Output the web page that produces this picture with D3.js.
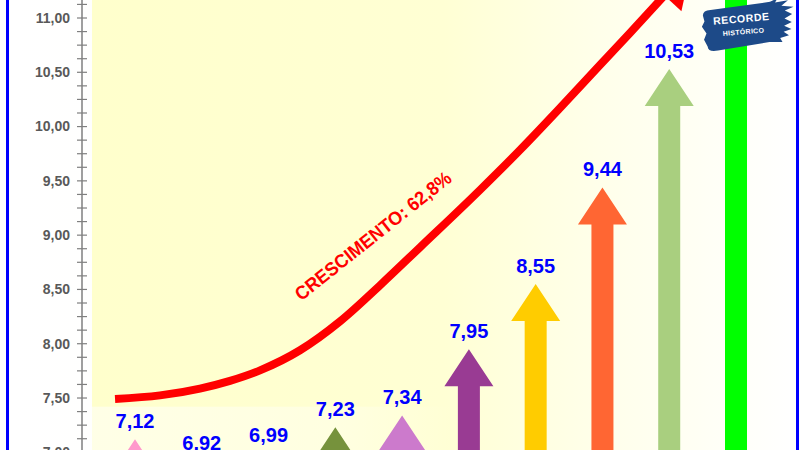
<!DOCTYPE html>
<html><head><meta charset="utf-8">
<script src="https://cdn.jsdelivr.net/npm/d3@7"></script>
<style>html,body{margin:0;padding:0;background:#fff;overflow:hidden}</style>
</head><body>
<svg id="c" width="800" height="450"></svg>
<script>
// ---- data ----
const categories = ["2013","2014","2015","2016","2017","2018","2019","2020","2021","2022"];
const values = [7.12, 6.92, 6.99, 7.23, 7.34, 7.95, 8.55, 9.44, 10.53, 11.59];
const arrowColors = ["#FF99CC","#4F81BD","#F79646","#76923C","#CC7ACC","#993B93","#FFCC00","#FF6633","#A9CF7F","#00FF00"];
const yTickValues = [7.0, 7.5, 8.0, 8.5, 9.0, 9.5, 10.0, 10.5, 11.0];
const yTickLabels = ["7,00","7,50","8,00","8,50","9,00","9,50","10,00","10,50","11,00"];
// growth trend curve (category index, value)
const trendIdx = [-0.299, 0.374, 0.973, 1.422, 1.872, 2.471, 3.070, 3.669, 4.268, 5.166, 5.765, 6.364, 6.963, 7.412, 7.921];
const trendVal = [7.491, 7.524, 7.587, 7.658, 7.755, 7.940, 8.206, 8.538, 8.888, 9.416, 9.784, 10.171, 10.567, 10.862, 11.203];
const growthLabel = "CRESCIMENTO: 62,8%";
const badgeLines = ["RECORDE", "HISTÓRICO"];

// ---- scales ----
const svg = d3.select("#c");
const x = d3.scalePoint().domain(categories).range([135, 736]);
const xi = d3.scaleLinear().domain([0, categories.length - 1]).range([135, 736]);
const y = d3.scaleLinear().domain([7, 11]).range([452.3, 18]);

// ---- backgrounds ----
const defs = svg.append("defs");
const g1 = defs.append("linearGradient").attr("id","bg").attr("x1","0").attr("x2","1").attr("y1","0").attr("y2","0");
[["0%","#FFFFCC"],["50%","#FFFFD4"],["72%","#FFFFEA"],["100%","#FFFFFF"]].forEach(s=>g1.append("stop").attr("offset",s[0]).attr("stop-color",s[1]));
const g2 = defs.append("linearGradient").attr("id","bgl").attr("x1","0").attr("x2","1");
[["0%","#FFFFFF"],["100%","#FFFFF6"]].forEach(s=>g2.append("stop").attr("offset",s[0]).attr("stop-color",s[1]));
const g3 = defs.append("linearGradient").attr("id","band").attr("x1","0").attr("x2","1");
[["0%","#FFFFF2",0.7],["70%","#FFFFF2",0.45],["100%","#FFFFF2",0]].forEach(s=>g3.append("stop").attr("offset",s[0]).attr("stop-color",s[1]).attr("stop-opacity",s[2]));

svg.append("rect").attr("x",8).attr("y",0).attr("width",790).attr("height",450).attr("fill","url(#bgl)");
svg.append("rect").attr("x",92).attr("y",0).attr("width",704).attr("height",450).attr("fill","url(#bg)");
svg.append("rect").attr("x",92).attr("y",y(7.42)).attr("width",360).attr("height",60).attr("fill","url(#band)");

// outer border
svg.append("line").attr("x1",7.5).attr("x2",7.5).attr("y1",0).attr("y2",450).attr("stroke","#0000FF").attr("stroke-width",3);
svg.append("line").attr("x1",797.5).attr("x2",797.5).attr("y1",0).attr("y2",450).attr("stroke","#0000FF").attr("stroke-width",3);

// ---- y axis ----
const minor = d3.range(6.5, 11.6, 0.125);
const ax = svg.append("g");
ax.append("line").attr("x1",82).attr("x2",82).attr("y1",0).attr("y2",450).attr("stroke","#7F7F7F").attr("stroke-width",1.5);
ax.selectAll("line.t").data(minor).join("line").attr("class","t")
  .attr("x1",77).attr("x2",87).attr("y1",d=>y(d)).attr("y2",d=>y(d))
  .attr("stroke","#7F7F7F").attr("stroke-width",1.2);
ax.selectAll("text").data(yTickValues).join("text")
  .attr("x",70).attr("y",d=>y(d)).attr("dy","0.35em").attr("text-anchor","end")
  .attr("font-family","'Liberation Sans',Arial,sans-serif").attr("font-weight","bold")
  .attr("font-size",14).attr("fill","#595959")
  .text((d,i)=>yTickLabels[i]);

// ---- arrows ----
const headH = 37, headW = 24.5, shaftW = 11;
const arrows = svg.append("g");
arrows.selectAll("path").data(values).join("path")
  .attr("fill",(d,i)=>arrowColors[i])
  .attr("d",(d,i)=>{
    const cx = x(categories[i]), t = y(d), b = y(0);
    return `M${cx},${t}L${cx+headW},${t+headH}L${cx+shaftW},${t+headH}L${cx+shaftW},${b}L${cx-shaftW},${b}L${cx-shaftW},${t+headH}L${cx-headW},${t+headH}Z`;
  });

// value labels
svg.append("g").selectAll("text").data(values).join("text")
  .attr("x",(d,i)=>x(categories[i])).attr("y",d=>y(d)-11)
  .attr("text-anchor","middle")
  .attr("font-family","'Liberation Sans',Arial,sans-serif").attr("font-weight","bold")
  .attr("font-size",20).attr("fill","#0000FF")
  .text(d=>d3.format(".2f")(d).replace(".",","));

// ---- growth curve ----
const pts = trendIdx.map((v,i)=>[xi(v), y(trendVal[i])]);
const line = d3.line().curve(d3.curveMonotoneX);
svg.append("path").attr("d",line(pts)).attr("fill","none").attr("stroke","#FF0000").attr("stroke-width",8);
// arrowhead at the end, oriented along the final segment
const pA = pts[pts.length-2], pB = pts[pts.length-1];
const ang = Math.atan2(pB[1]-pA[1], pB[0]-pA[0]) * 180/Math.PI;
svg.append("path").attr("d","M0,-21L36,0L0,21Z").attr("fill","#FF0000")
  .attr("transform",`translate(${pB[0]+2},${pB[1]+1}) rotate(${ang})`);

// growth label
svg.append("text")
  .attr("transform",`translate(${xi(2.49)},${y(8.39)}) rotate(-38.5)`)
  .attr("font-family","'Liberation Sans',Arial,sans-serif").attr("font-weight","bold")
  .attr("font-size",19).attr("fill","#FF0000")
  .attr("textLength",194).attr("lengthAdjust","spacingAndGlyphs")
  .text(growthLabel);

// ---- badge ----
const bg = svg.append("g").attr("transform",`translate(${x(categories[9])+10},26) rotate(-5)`);
bg.append("path").attr("fill","#1D4A88")
  .attr("d","M-42,-14 Q-42,-19 -34,-19 L26,-22 L34,-25 L31,-21 L44,-22 L37,-17 L49,-15 L40,-12 L47,-8 L39,-4 L46,0 L38,3 L45,7 L37,9 L42,13 L33,15 L35,19 L22,18 L-30,22 Q-40,23 -40,17 L-43,10 L-40,4 L-44,-3 L-41,-8 Z");
bg.append("text").attr("x",-4).attr("y",-4).attr("text-anchor","middle")
  .attr("font-family","'Liberation Sans',Arial,sans-serif").attr("font-weight","bold")
  .attr("font-size",10.5).attr("letter-spacing",0.6).attr("fill","#FFFFFF").text(badgeLines[0]);
bg.append("text").attr("x",-3).attr("y",8).attr("text-anchor","middle")
  .attr("font-family","'Liberation Sans',Arial,sans-serif").attr("font-weight","bold")
  .attr("font-size",7).attr("letter-spacing",0.3).attr("fill","#FFFFFF").text(badgeLines[1]);
</script>
</body></html>
